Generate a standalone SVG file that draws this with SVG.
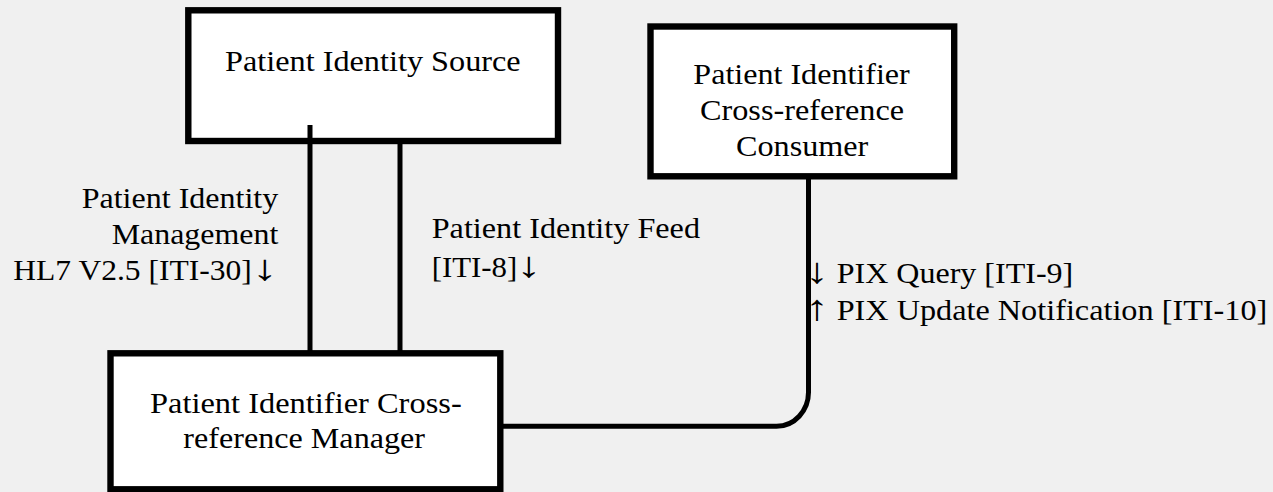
<svg xmlns="http://www.w3.org/2000/svg" width="1273" height="492" viewBox="0 0 1273 492">
<style>
.box{fill:#ffffff;stroke:#000000;stroke-width:6.4}
.conn{fill:none;stroke:#000000;stroke-width:5}
.t{font-family:'Liberation Serif','Times New Roman',serif;font-size:28.5px;fill:#000000}
.arr{font-family:'Liberation Serif','Times New Roman',serif;font-size:36px;fill:#000000}
</style>
<rect width="1273" height="492" fill="#f0f0f0"/>
<g id="source">
<rect class="box" x="188.3" y="10.3" width="369.7" height="130.7"/>
<text class="t" x="225" y="70.5" textLength="295.7" lengthAdjust="spacingAndGlyphs">Patient Identity Source</text>
</g>
<g id="consumer">
<rect class="box" x="650.5" y="26.5" width="303.7" height="149.8"/>
<text class="t" x="693.3" y="83.5" textLength="216.5" lengthAdjust="spacingAndGlyphs">Patient Identifier</text>
<text class="t" x="700" y="119.5" textLength="204" lengthAdjust="spacingAndGlyphs">Cross-reference</text>
<text class="t" x="736" y="155.5" textLength="132.3" lengthAdjust="spacingAndGlyphs">Consumer</text>
</g>
<g id="manager">
<rect class="box" x="110.5" y="353.3" width="389.8" height="136"/>
<text class="t" x="150" y="412.7" textLength="311.7" lengthAdjust="spacingAndGlyphs">Patient Identifier Cross-</text>
<text class="t" x="183.3" y="448.3" textLength="241.7" lengthAdjust="spacingAndGlyphs">reference Manager</text>
</g>
<g id="connectors">
<path class="conn" d="M310 125 V351"/>
<path class="conn" d="M400 143 V351"/>
<path class="conn" d="M808.5 178 V392 A32 34 0 0 1 776.5 426.3 H502"/>
</g>
<g id="labels">
<text class="t" x="81.7" y="207.7" textLength="196.6" lengthAdjust="spacingAndGlyphs">Patient Identity</text>
<text class="t" x="111.7" y="244" textLength="166.6" lengthAdjust="spacingAndGlyphs">Management</text>
<text class="t" x="13.3" y="280" textLength="238.4" lengthAdjust="spacingAndGlyphs">HL7 V2.5 [ITI-30]</text>
<text class="arr" transform="translate(252,280) scale(1.45,1)">↓</text>
<text class="t" x="431.7" y="238.3" textLength="268.3" lengthAdjust="spacingAndGlyphs">Patient Identity Feed</text>
<text class="t" x="431.7" y="276.5" textLength="85.6" lengthAdjust="spacingAndGlyphs">[ITI-8]</text>
<text class="arr" transform="translate(516.5,276.5) scale(1.4,1)">↓</text>
<text class="arr" transform="translate(805.5,282.5) scale(1.3,1)">↓</text>
<text class="t" x="836.7" y="282.5" textLength="236.6" lengthAdjust="spacingAndGlyphs">PIX Query [ITI-9]</text>
<text class="arr" transform="translate(805.5,319.5) scale(1.3,1)">↑</text>
<text class="t" x="836.7" y="319.5" textLength="430.6" lengthAdjust="spacingAndGlyphs">PIX Update Notification [ITI-10]</text>
</g>
</svg>
